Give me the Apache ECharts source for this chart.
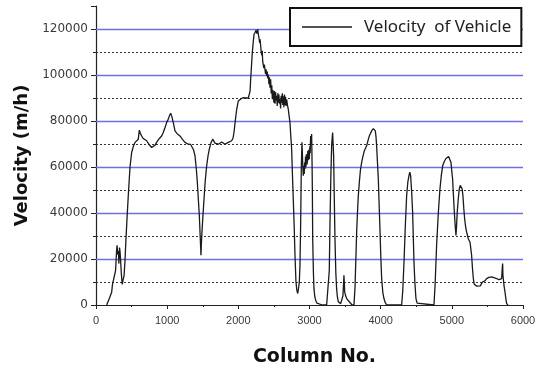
<!DOCTYPE html>
<html>
<head>
<meta charset="utf-8">
<script src="https://cdn.jsdelivr.net/npm/echarts@6/dist/echarts.min.js"></script>
<style>
html,body{margin:0;padding:0;background:#fff;}
#chart{width:545px;height:372px;}
</style>
</head>
<body>
<div id="chart"></div>
<script>
const seriesName = 'Velocity  of Vehicle';
const xTitle = 'Column No.';
const yTitle = 'Velocity (m/h)';
const dottedLevels = [10000, 30000, 50000, 70000, 90000, 110000];
const solidLevels = [20000, 40000, 60000, 80000, 100000, 120000];

const columnNo = [
150,190,220,232,258,275,290,296,305,314,322,330,337,345,355,368,384,395,407,420,440,458,478,501,525,548,575,594,609,625,642,660,680,712,740,765,782,806,830,852,880,922,945,970,995,1016,1035,1049,1065,1086,1110,1140,1180,1215,1250,1297,1330,1344,1370,1391,1410,1424,1440,1452,1465,1472,1475,1480,1489,1505,1518,1535,1555,1575,1592,1615,1640,1655,1672,1690,1719,1740,1766,1790,1812,1835,1859,1885,1906,1925,1939,1955,1977,2000,2030,2070,2100,2117,2140,2154,2165,2173,2185,2196,2210,2220,2235,2248,2260,2272,2282,2290,2300,2306,2314,2322,2330,2336,2342,2350,2358,2366,2374,2382,2390,2398,2406,2414,2421,2430,2437,2445,2454,2462,2470,2478,2486,2491,2500,2508,2516,2524,2532,2539,2547,2555,2563,2570,2578,2585,2594,2602,2610,2618,2625,2632,2640,2648,2656,2663,2671,2679,2690,2702,2714,2726,2738,2749,2760,2772,2786,2796,2810,2822,2834,2845,2857,2866,2876,2885,2894,2900,2906,2913,2920,2926,2932,2937,2944,2950,2956,2962,2969,2976,2983,2990,2997,3005,3010,3016,3022,3030,3036,3040,3045,3055,3063,3075,3087,3105,3124,3180,3241,3269,3278,3288,3300,3312,3325,3332,3339,3348,3358,3370,3381,3392,3405,3438,3460,3470,3478,3484,3490,3494,3508,3522,3540,3559,3593,3625,3640,3653,3662,3672,3685,3700,3715,3733,3750,3770,3785,3803,3822,3840,3855,3873,3890,3897,3906,3915,3925,3935,3943,3955,3967,3978,3990,4002,4014,4030,4046,4065,4084,4295,4310,4328,4346,4365,4382,4402,4410,4421,4435,4449,4458,4468,4482,4496,4512,4529,4749,4765,4786,4810,4833,4851,4871,4895,4918,4940,4955,4972,4988,5000,5011,5022,5035,5046,5058,5064,5076,5090,5104,5118,5133,5145,5156,5168,5180,5194,5200,5208,5215,5222,5231,5245,5255,5265,5278,5290,5302,5315,5325,5350,5372,5400,5420,5430,5442,5465,5489,5520,5560,5600,5630,5660,5686,5700,5708,5714,5718,5723,5735,5747,5758,5770,5790
];
const velocity = [
0,3000,5500,9000,9000,15000,24000,26000,22000,23500,18000,25000,23500,20000,14000,9000,8500,13000,19000,28000,40000,50000,60000,66300,69000,70700,71500,72100,76000,74500,73500,72500,72000,71400,70000,69500,68500,67800,69500,70700,72000,73500,75000,77200,79500,80800,82500,83400,82000,79300,75700,74500,73500,72000,70700,69900,69800,69200,67500,64900,59000,53300,45000,38900,29000,24000,21600,26000,31700,40000,46100,54000,60500,65000,67800,70500,72100,71500,70400,70600,69900,70500,70900,70200,69900,70400,70700,71000,71400,72500,75000,79500,85100,88700,89500,90200,90000,90600,90000,89400,93000,98000,104000,109600,114500,117600,118500,119400,118000,120000,117500,116100,114000,115500,112500,110000,108500,110500,106000,105500,103000,104500,103800,100500,102500,99500,101500,98500,100200,96000,99000,94500,98100,92000,95500,89500,93500,90800,88000,93000,87500,92500,89000,90800,86500,92000,88000,91500,87500,89400,85500,91000,88000,92000,87000,90800,86000,91500,87000,90500,86500,89400,87000,85100,82000,79300,73000,67800,57000,46100,33000,21600,10000,6500,5000,7000,10000,17200,36000,60000,70700,66000,60000,56200,60500,57000,62000,59100,64500,60000,65500,61000,62000,67000,63000,67500,63400,69000,66000,73500,70000,74300,62000,50400,28800,14000,7100,3500,2100,800,200,0,0,500,15000,36000,56000,70000,75000,70000,64900,47000,28800,14000,7100,3500,1400,600,1000,4000,9000,12900,9000,5700,4000,2800,2000,1400,200,0,8000,21600,31000,38900,47000,53300,58500,62000,64500,67000,68000,69200,71500,73500,74500,75700,76300,76700,76000,77000,75700,73000,69200,62000,54800,44000,33100,21000,11500,5500,2800,1000,0,0,6000,18700,34000,47500,53500,56900,57800,56200,49500,40400,30000,18700,9000,2800,800,0,0,9000,25900,40000,50400,56000,60500,62500,63700,64500,64600,64000,62000,58000,54800,48000,40400,35000,30200,33000,40400,46000,50400,52000,52200,50500,47500,42000,37500,34000,33500,31700,32500,30000,28800,28000,27400,25000,21600,16000,11500,9000,8600,8200,7900,8300,8800,10000,9300,10500,11500,12000,12200,11800,11500,11000,10700,11500,16000,18000,13000,11500,8000,5700,3000,600,0
];

const data = columnNo.map((c, i) => [c, velocity[i]]);

const dottedStyle = {color: '#333', type: [2, 2], width: 1};
const solidStyle = {color: '#6f6fe3', type: 'solid', width: 1.3};
const gridLines = dottedLevels.map(v => ({yAxis: v, lineStyle: dottedStyle}))
  .concat(solidLevels.map(v => ({yAxis: v, lineStyle: solidStyle})));

const chart = echarts.init(document.getElementById('chart'), null, {renderer: 'canvas'});
chart.setOption({
  animation: false,
  backgroundColor: '#fff',
  grid: {left: 96, right: 22, top: 6, bottom: 66},
  legend: {
    z: 50, zlevel: 0,
    left: 290, top: 8,
    padding: [10, 10, 10, 12],
    backgroundColor: '#fff',
    borderColor: '#111', borderWidth: 2,
    icon: 'rect',
    itemWidth: 50, itemHeight: 1.5,
    itemStyle: {color: '#1a1a1a', borderWidth: 0},
    textStyle: {fontFamily: 'Noto Sans', fontSize: 17, color: '#222', lineHeight: 18, padding: [0, 0, 0, 7]},
    data: [seriesName]
  },
  xAxis: {
    type: 'value', min: 0, max: 6000, interval: 1000,
    name: xTitle, nameLocation: 'middle', nameGap: 43,
    nameTextStyle: {fontFamily: 'DejaVu Sans', fontWeight: 'bold', fontSize: 19, color: '#111', padding: [0, 0, 0, 10]},
    axisLine: {show: true, lineStyle: {color: '#222', width: 1.2}},
    axisTick: {show: true, inside: false, length: 4, lineStyle: {color: '#222'}},
    minorTick: {show: true, splitNumber: 2, length: 2, lineStyle: {color: '#222'}},
    axisLabel: {fontFamily: 'Liberation Sans', fontSize: 11, color: '#3a3a3a', margin: 10, formatter: v => String(v)},
    splitLine: {show: false}
  },
  yAxis: {
    type: 'value', min: 0, max: 130000, interval: 20000,
    name: yTitle, nameLocation: 'middle', nameGap: 63,
    nameTextStyle: {fontFamily: 'DejaVu Sans', fontWeight: 'bold', fontSize: 18, color: '#111'},
    axisLine: {show: true, lineStyle: {color: '#222', width: 1.2}},
    axisTick: {show: true, inside: false, length: 5, lineStyle: {color: '#222'}},
    minorTick: {show: true, splitNumber: 2, length: 3, lineStyle: {color: '#222'}},
    axisLabel: {fontFamily: 'DejaVu Sans', fontSize: 12, color: '#3a3a3a', margin: 8, showMaxLabel: false, formatter: v => String(v)},
    splitLine: {show: false}
  },
  series: [{
    name: seriesName,
    type: 'line',
    z: 2,
    data: data,
    symbol: 'none',
    showSymbol: false,
    color: '#1a1a1a',
    lineStyle: {color: '#1a1a1a', width: 1.3},
    itemStyle: {color: '#1a1a1a'},
    markLine: {
      silent: true,
      z: 1,
      symbol: ['none', 'none'],
      label: {show: false},
      emphasis: {disabled: true},
      data: gridLines
    }
  }]
});
</script>
</body>
</html>
